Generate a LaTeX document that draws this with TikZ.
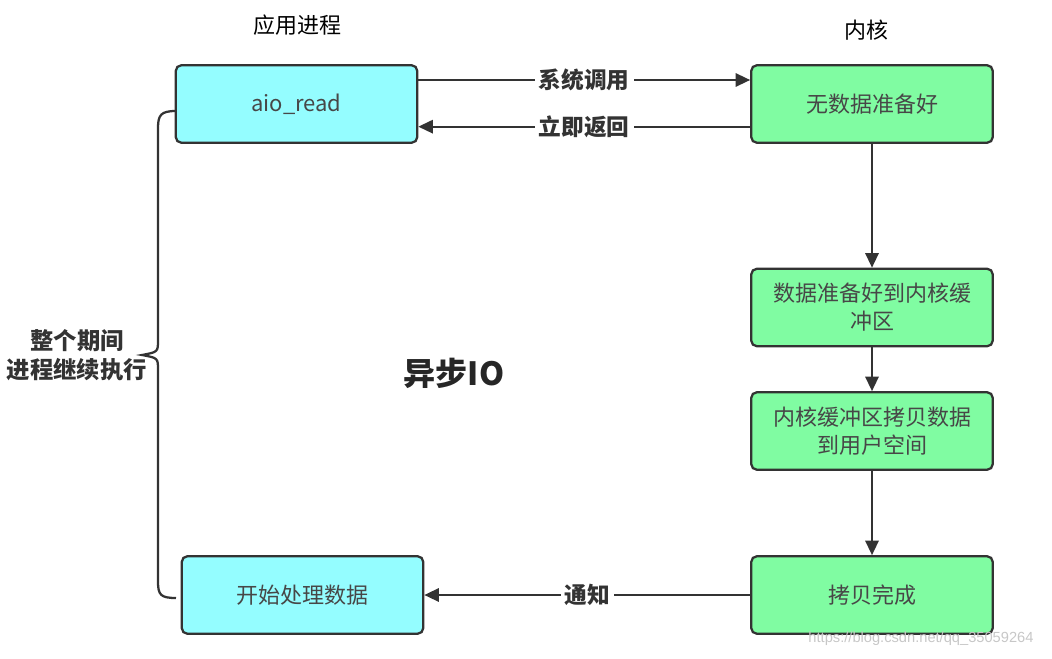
\documentclass[tikz,border=0pt]{standalone}
\usepackage{fontspec}
\setmainfont{Noto Sans CJK SC}
\newfontfamily\urlfont{Liberation Sans}
\usetikzlibrary{arrows.meta}

\definecolor{lineg}{HTML}{333333}
\definecolor{appc}{HTML}{94FDFF}
\definecolor{kerc}{HTML}{80FCA2}

\begin{document}
\begin{tikzpicture}[x=0.75pt, y=-0.75pt, line width=1.7pt, draw=lineg,
  >={Triangle[length=11pt, width=10pt]},
  box/.style={draw=lineg, rounded corners=4pt, minimum width=181pt, minimum height=58pt,
    align=center, text=black!72, font=\fontsize{16.5}{21}\selectfont},
  appbox/.style={box, fill=appc},
  kerbox/.style={box, fill=kerc},
  lbl/.style={fill=white, inner sep=3pt, text=lineg, font=\fontsize{17}{20}\selectfont\bfseries}]
\useasboundingbox (0,0) rectangle (1052,659);

% titles
\node (tapp) at (297,25) {\fontsize{16.5}{18}\selectfont 应用进程};
\node (tker) at (866,30) {\fontsize{16.5}{18}\selectfont 内核};

% boxes
\node[appbox] (aio) at (296.5,104) {aio\_read};
\node[appbox] (proc) at (302.5,595) {开始处理数据};
\node[kerbox] (nodata) at (872,104) {无数据准备好};
\node[kerbox] (ready) at (872,307.5) {数据准备好到内核缓\\冲区};
\node[kerbox] (copy) at (872,431) {内核缓冲区拷贝数据\\到用户空间};
\node[kerbox] (done) at (872,595) {拷贝完成};

% arrows
\draw[->] ([yshift=18pt]aio.east) -- node[lbl]{系统调用} ([yshift=18pt]nodata.west);
\draw[->] ([yshift=-17pt]nodata.west) -- node[lbl]{立即返回} ([yshift=-17pt]aio.east);
\draw[->] (nodata) -- (ready);
\draw[->] (ready) -- (copy);
\draw[->] (copy) -- (done);
\draw[->] (done) -- node[lbl]{通知} (proc);

% brace
\draw (176,111) .. controls (161,111) and (158,115) .. (158,128) -- (158,340)
  .. controls (158,352) .. (142,355) .. controls (158,358) .. (158,370) -- (158,582)
  .. controls (158,595) and (161,598) .. (176,598);
\node[align=center, text=lineg, font=\fontsize{17.5}{22}\selectfont\bfseries] (whole) at (77,355) {整个期间\\进程继续执行};

\node[text=black!85, font=\fontsize{24}{26}\selectfont\bfseries] (async) at (454,373) {异步IO};

\node[text=black!22, font=\urlfont\fontsize{11}{13}\selectfont] (wm) at (921,639) {https://blog.csdn.net/qq\_35059264};
\end{tikzpicture}
\end{document}
